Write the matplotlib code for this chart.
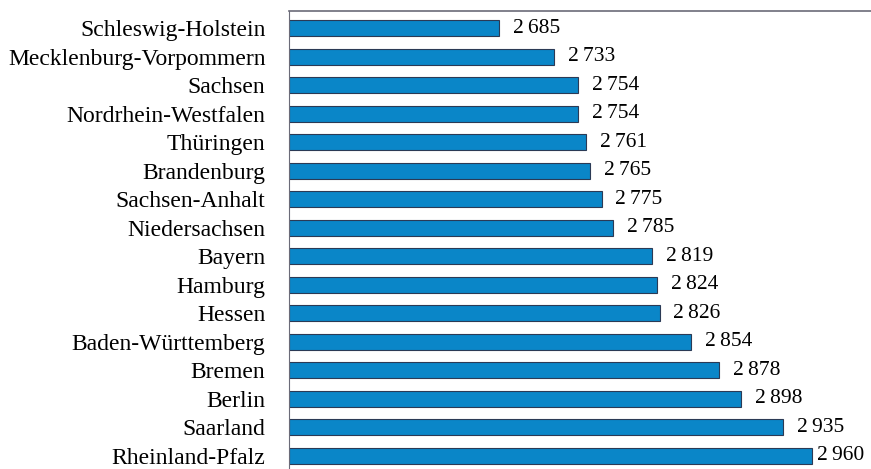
import matplotlib
matplotlib.use("Agg")
import matplotlib.pyplot as plt

states = ["Schleswig-Holstein", "Mecklenburg-Vorpommern", "Sachsen", "Nordrhein-Westfalen",
          "Thüringen", "Brandenburg", "Sachsen-Anhalt", "Niedersachsen", "Bayern", "Hamburg",
          "Hessen", "Baden-Württemberg", "Bremen", "Berlin", "Saarland", "Rheinland-Pfalz"]
values = [2685, 2733, 2754, 2754, 2761, 2765, 2775, 2785, 2819, 2824,
          2826, 2854, 2878, 2898, 2935, 2960]

plt.rcParams['font.family'] = ['Liberation Serif', 'DejaVu Serif']

fig = plt.figure(figsize=(8.71, 4.69), dpi=100)
ax = fig.add_axes([289/871, 0, 1 - 289/871, 458/469])

base = 2500
pos = list(range(len(states)))
ax.barh(pos, [v - base for v in values], left=base, height=0.56,
        color='#0a86c8', edgecolor='#2b3a55', linewidth=0.8)

for p, v in zip(pos, values):
    s = f"{v:,}".replace(",", "\u2009")
    # last label sits closer to the bar so it fits in the frame
    off = 4 if p == len(values) - 1 else 10
    ax.annotate(s, (v, p), xytext=(off, 0), textcoords='offset points',
                va='center', ha='left', fontsize=15.5)

ax.set_xlim(base, 3012)
ax.set_ylim(15.47, -0.6)
ax.set_yticks(pos)
ax.set_yticklabels(states, fontsize=17)
ax.tick_params(axis='y', length=0, pad=17)
ax.set_xticks([])
for side in ['right', 'bottom']:
    ax.spines[side].set_visible(False)
ax.spines['top'].set_color('#6b6b78')
ax.spines['left'].set_color('#6b6b78')
ax.spines['top'].set_linewidth(1.2)

fig.savefig("out.png", dpi=100)
